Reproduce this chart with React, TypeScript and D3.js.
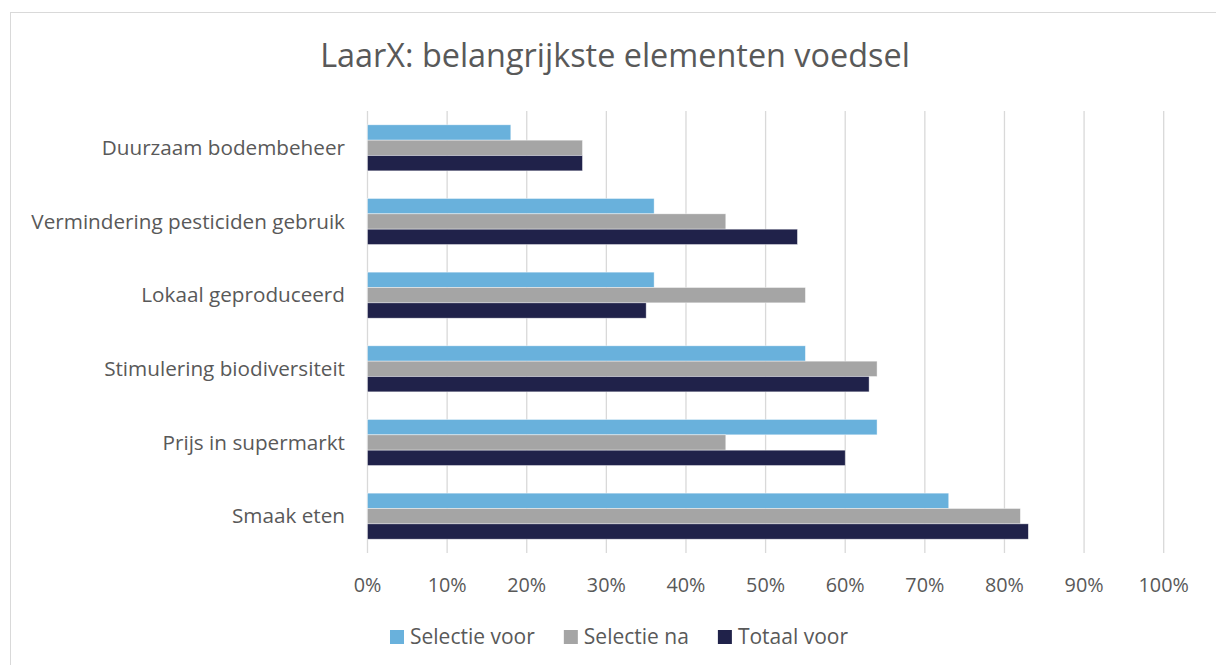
import React, { useEffect, useRef } from "react";
import * as d3 from "d3";

const categories = [
  "Duurzaam bodembeheer",
  "Vermindering pesticiden gebruik",
  "Lokaal geproduceerd",
  "Stimulering biodiversiteit",
  "Prijs in supermarkt",
  "Smaak eten",
];
const seriesNames = ["Selectie voor", "Selectie na", "Totaal voor"];
const selectieVoor = [18, 36, 36, 55, 64, 73];
const selectieNa = [27, 45, 55, 64, 45, 82];
const totaalVoor = [27, 54, 35, 63, 60, 83];
const seriesColors = ["#69b1dc", "#a5a5a5", "#20224a"];
const xTicks = [0, 10, 20, 30, 40, 50, 60, 70, 80, 90, 100];
const title = "LaarX: belangrijkste elementen voedsel";

const W = 1216;
const H = 665;
const FONT = "'Open Sans', Lato, sans-serif";

export default function App() {
  const ref = useRef<SVGSVGElement>(null);
  useEffect(() => {
    const svg = d3.select(ref.current);
    svg.selectAll("*").remove();

    const series = [selectieVoor, selectieNa, totaalVoor];
    const left = 367.5;
    const right = 1163.7;
    const top = 111;
    const bottom = 553;

    svg
      .append("rect")
      .attr("x", 10.5)
      .attr("y", 12.5)
      .attr("width", W + 20)
      .attr("height", H + 20)
      .attr("fill", "#fff")
      .attr("stroke", "#d9d9d9")
      .attr("stroke-width", 1);

    const t = svg
      .append("text")
      .attr("x", 615)
      .attr("y", 67)
      .attr("text-anchor", "middle")
      .attr("font-family", FONT)
      .attr("font-size", 31)
      .attr("fill", "#595959")
      .text(title);
    const tw = (t.node() as SVGTextElement).getComputedTextLength();
    if (tw > 0) t.attr("font-size", (31 * 590) / tw);

    const x = d3.scaleLinear().domain([0, 100]).range([left, right]);
    const y = d3
      .scaleBand<string>()
      .domain(categories)
      .range([top, bottom])
      .paddingInner(0.375)
      .paddingOuter(0.1875);
    const inner = d3
      .scaleBand<number>()
      .domain(d3.range(series.length))
      .range([0, y.bandwidth()]);

    // gridlines
    svg
      .append("g")
      .selectAll("line")
      .data(xTicks)
      .join("line")
      .attr("x1", (d) => x(d))
      .attr("x2", (d) => x(d))
      .attr("y1", top)
      .attr("y2", bottom)
      .attr("stroke", "#d9d9d9")
      .attr("stroke-width", 1.3);

    // bars
    const groups = svg
      .append("g")
      .selectAll("g")
      .data(categories)
      .join("g")
      .attr("transform", (d) => `translate(0,${y(d)})`);
    groups
      .selectAll("rect")
      .data((_, i) => series.map((s, k) => ({ k, v: s[i] })))
      .join("rect")
      .attr("x", x(0))
      .attr("y", (d) => inner(d.k)!)
      .attr("width", (d) => x(d.v) - x(0))
      .attr("height", inner.bandwidth())
      .attr("fill", (d) => seriesColors[d.k])
      .attr("stroke", "#ffffff")
      .attr("stroke-opacity", 0.6)
      .attr("stroke-width", 0.7);

    // category labels
    svg
      .append("g")
      .selectAll("text")
      .data(categories)
      .join("text")
      .attr("x", 345)
      .attr("y", (d) => y(d)! + y.bandwidth() / 2)
      .attr("dy", "0.35em")
      .attr("text-anchor", "end")
      .attr("font-family", FONT)
      .attr("font-size", 20.7)
      .attr("fill", "#595959")
      .text((d) => d);

    // x tick labels
    svg
      .append("g")
      .selectAll("text")
      .data(xTicks)
      .join("text")
      .attr("x", (d) => x(d))
      .attr("y", 585)
      .attr("dy", "0.35em")
      .attr("text-anchor", "middle")
      .attr("font-family", FONT)
      .attr("font-size", 19.8)
      .attr("fill", "#595959")
      .text((d) => `${d}%`);

    // legend
    const lg = svg.append("g");
    const items = lg.selectAll("g").data(seriesNames).join("g");
    items
      .append("rect")
      .attr("width", 14)
      .attr("height", 14)
      .attr("y", -7)
      .attr("fill", (_, i) => seriesColors[i]);
    items
      .append("text")
      .attr("x", 20)
      .attr("dy", "0.35em")
      .attr("font-family", FONT)
      .attr("font-size", 21)
      .attr("fill", "#595959")
      .text((d) => d);
    let cx = 0;
    const gap = 29;
    items.each(function () {
      const g = d3.select(this);
      g.attr("transform", `translate(${cx},0)`);
      const w = (g.select("text").node() as SVGTextElement).getComputedTextLength() + 20;
      cx += w + gap;
    });
    const total = cx - gap;
    lg.attr("transform", `translate(${619 - total / 2},637)`);
  }, []);

  return (
    <svg
      ref={ref}
      width={W}
      height={H}
      style={{ position: "absolute", left: 0, top: 0, background: "#fff" }}
    />
  );
}
